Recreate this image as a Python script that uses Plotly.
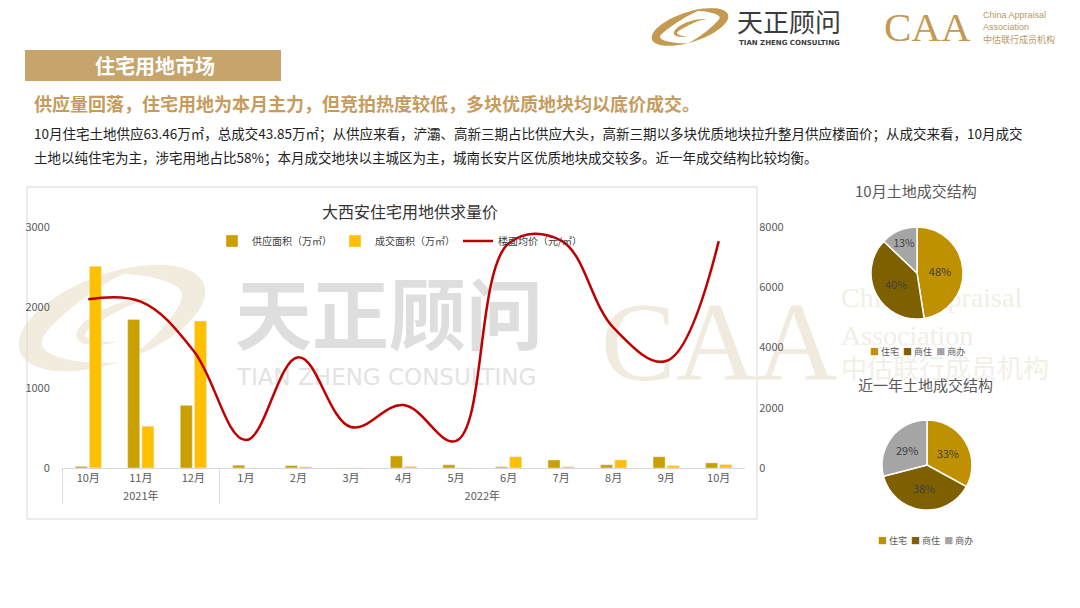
import numpy as np
import plotly.graph_objects as go

W, H = 1080, 608

# ---------------- data ----------------
years = ["2021年"] * 3 + ["2022年"] * 10
# the second "10月" carries an invisible zero-width space so it stays a separate category
months = ["10月", "11月", "12月", "1月", "2月", "3月", "4月", "5月", "6月", "7月", "8月", "9月", "10月\u200b"]
supply_area = [20, 1850, 780, 35, 30, 0, 150, 40, 15, 100, 40, 140, 63.46]
deal_area = [2510, 520, 1830, 0, 15, 0, 20, 0, 140, 15, 100, 30, 43.85]
floor_price = [5600, 5520, 3900, 930, 3680, 1360, 2090, 900, 7450, 7550, 4650, 3550, 7530]

pie_labels = ["住宅", "商住", "商办"]
pie_oct = [48, 40, 13]
pie_year = [33, 38, 29]

FONT = "Noto Sans CJK SC"


def px(x):
    return x / W


def py(y):
    return 1 - y / H


fig = go.Figure()

fig.add_trace(go.Bar(x=[years, months], y=supply_area, name="供应面积（万㎡）",
                     marker_color="#C9A000", yaxis="y"))
fig.add_trace(go.Bar(x=[years, months], y=deal_area, name="成交面积（万㎡）",
                     marker_color="#FFC000", yaxis="y"))
fig.add_trace(go.Scatter(x=[years, months], y=floor_price, name="楼面均价（元/㎡）",
                         mode="lines", line=dict(color="#C00000", width=2.5, shape="spline", smoothing=1.1),
                         yaxis="y2"))

pie_colors = ["#BF9000", "#7F6000", "#A5A5A5"]
fig.add_trace(go.Pie(labels=pie_labels, values=pie_oct, sort=False, direction="clockwise", rotation=0,
                     marker=dict(colors=pie_colors, line=dict(color="white", width=1.5)),
                     texttemplate="%{value}%", textposition="inside", insidetextorientation="horizontal",
                     textfont=dict(size=11, color="#404040", family=FONT),
                     domain=dict(x=[px(871), px(963)], y=[py(319), py(227)]),
                     showlegend=False, hoverinfo="label+percent"))
fig.add_trace(go.Pie(labels=pie_labels, values=pie_year, sort=False, direction="clockwise", rotation=0,
                     marker=dict(colors=pie_colors, line=dict(color="white", width=1.5)),
                     texttemplate="%{value}%", textposition="inside", insidetextorientation="horizontal",
                     textfont=dict(size=11, color="#404040", family=FONT),
                     domain=dict(x=[px(882), px(972)], y=[py(510), py(420)]),
                     showlegend=False, hoverinfo="label+percent"))

shapes = []
annotations = []


def crescent(cx, cy, rx, ry, ang, thick, a0, a1, color, layer="below"):
    t = np.linspace(np.radians(a0), np.radians(a1), 60)
    ca, sa = np.cos(np.radians(ang)), np.sin(np.radians(ang))
    pts = []
    for tt in t:
        ex, ey = rx * np.cos(tt), ry * np.sin(tt)
        pts.append((cx + ex * ca - ey * sa, cy + ex * sa + ey * ca))
    t2 = t[::-1]
    for i, tt in enumerate(t2):
        f = np.sin(np.pi * i / (len(t2) - 1))
        r2x = rx - thick * f
        r2y = ry - thick * f
        ex, ey = r2x * np.cos(tt), r2y * np.sin(tt)
        pts.append((cx + ex * ca - ey * sa, cy + ex * sa + ey * ca))
    path = "M " + " L ".join(f"{px(a):.5f},{py(b):.5f}" for a, b in pts) + " Z"
    shapes.append(dict(type="path", path=path, xref="paper", yref="paper", fillcolor=color,
                       line=dict(width=0), layer=layer))


def wm_text(x, y, text, size, color, family=FONT, layer="below"):
    shapes.append(dict(type="rect", xref="paper", yref="paper", x0=px(x), x1=px(x + 2), y0=py(y + 1), y1=py(y - 1),
                       line=dict(width=0), fillcolor="rgba(0,0,0,0)", layer=layer,
                       label=dict(text=text, textposition="middle left", padding=0,
                                  font=dict(size=size, color=color, family=family))))


def ann(x, y, text, size, color, xanchor="center", family=FONT):
    annotations.append(dict(x=px(x), y=py(y), xref="paper", yref="paper", text=text, showarrow=False,
                            xanchor=xanchor, yanchor="middle",
                            font=dict(size=size, color=color, family=family)))


# ---- watermark (behind the chart) ----
crescent(112, 318, 98, 44, -20, 24, 95, 300, "#F2ECDF")
crescent(112, 318, 98, 44, -20, 24, 275, 450, "#F2ECDF")
crescent(120, 322, 46, 18, -20, 10, 100, 330, "#F2ECDF")
wm_text(232, 322, "<b>天正顾问</b>", 77, "#DEDEDE")
wm_text(234, 375, "TIAN ZHENG CONSULTING", 23, "#E3E3E3", family="DejaVu Sans")
wm_text(598, 330, "CAA", 112, "#F1EBDF", family="Liberation Serif")
wm_text(838, 294, "China Appraisal", 28, "#F2EEE6", family="Liberation Serif")
wm_text(838, 332, "Association", 28, "#F2EEE6", family="Liberation Serif")
wm_text(838, 370, "中估联行成员机构", 26, "#F3EFE7")

# chart box
shapes.append(dict(type="rect", xref="paper", yref="paper", x0=px(27), x1=px(757), y0=py(519), y1=py(187),
                   line=dict(color="#D9D9D9", width=1), fillcolor="rgba(0,0,0,0)", layer="below"))

# header box
shapes.append(dict(type="rect", xref="paper", yref="paper", x0=px(25), x1=px(281), y0=py(81), y1=py(50),
                   line=dict(width=0), fillcolor="#C6A46C", layer="below"))
ann(155, 66, "<b>住宅用地市场</b>", 20, "white")

# top right logo
crescent(690, 27, 40, 15, -18, 9, 100, 300, "#C49A52", layer="above")
crescent(690, 27, 40, 15, -18, 9, 280, 460, "#C49A52", layer="above")
crescent(692, 28, 19, 7, -18, 4, 110, 330, "#C49A52", layer="above")
ann(735, 20, "天正顾问", 26, "#3C3C3C", xanchor="left")
ann(737, 43, "<b>TIAN ZHENG CONSULTING</b>", 7, "#3C3C3C", xanchor="left", family="DejaVu Sans")
ann(882, 27, "CAA", 41, "#C49A52", xanchor="left", family="Liberation Serif")
ann(981, 15, "China Appraisal", 9, "#B89868", xanchor="left", family="Liberation Sans")
ann(981, 27, "Association", 9, "#B89868", xanchor="left", family="Liberation Sans")
ann(981, 39, "中估联行成员机构", 9, "#B89868", xanchor="left")

# subtitle & paragraph
ann(32, 103, "<b>供应量回落，住宅用地为本月主力，但竞拍热度较低，多块优质地块均以底价成交。</b>", 18, "#C69C5E",
    xanchor="left")
ann(32, 133, "10月住宅土地供应63.46万㎡，总成交43.85万㎡；从供应来看，浐灞、高新三期占比供应大头，高新三期以多块优质地块拉升整月供应楼面价；从成交来看，10月成交",
    13.5, "#222222", xanchor="left")
ann(32, 157, "土地以纯住宅为主，涉宅用地占比58%；本月成交地块以主城区为主，城南长安片区优质地块成交较多。近一年成交结构比较均衡。",
    13.5, "#222222", xanchor="left")

# chart title and pie titles
ann(410, 211, "大西安住宅用地供求量价", 16, "#333333")
ann(916, 190, "10月土地成交结构", 15, "#595959")
ann(925, 384, "近一年土地成交结构", 15, "#595959")

# pie legends
pie_legend = "  ".join(f"<span style='color:{c}'>■</span> {lab}" for lab, c in zip(pie_labels, pie_colors))
ann(917, 351, pie_legend, 9, "#595959")
ann(925, 540, pie_legend, 9, "#595959")

tickfont = dict(size=11, color="#595959", family=FONT)

fig.update_layout(
    width=W, height=H, autosize=False,
    margin=dict(l=0, r=0, t=0, b=0, autoexpand=False),
    paper_bgcolor="white", plot_bgcolor="rgba(0,0,0,0)",
    font=dict(family=FONT),
    barmode="group", bargap=0.46, bargroupgap=0.15,
    xaxis=dict(domain=[px(62), px(745)], type="multicategory", showline=True, linecolor="#D9D9D9",
               showgrid=False, tickfont=tickfont, showdividers=True, dividercolor="#D9D9D9",
               dividerwidth=1, ticks="outside", ticklen=6, tickcolor="rgba(0,0,0,0)"),
    yaxis=dict(domain=[py(468), py(227)], range=[0, 3000], dtick=1000, showgrid=False, zeroline=False,
               tickfont=tickfont, ticks="outside", ticklen=9, tickcolor="rgba(0,0,0,0)", showline=False),
    yaxis2=dict(domain=[py(468), py(227)], range=[0, 8000], dtick=2000, overlaying="y", side="right",
                showgrid=False, zeroline=False, tickfont=tickfont, ticks="outside", ticklen=11,
                tickcolor="rgba(0,0,0,0)", anchor="x"),
    legend=dict(orientation="h", x=px(212), y=py(241), xanchor="left", yanchor="middle",
                font=dict(size=10, color="#404040", family=FONT), bgcolor="rgba(0,0,0,0)",
                entrywidth=78, entrywidthmode="pixels", itemwidth=30),
    shapes=shapes,
    annotations=annotations,
)

fig.write_html("out.html", config={"displayModeBar": False},
               post_script="document.body.style.margin='0px';")
